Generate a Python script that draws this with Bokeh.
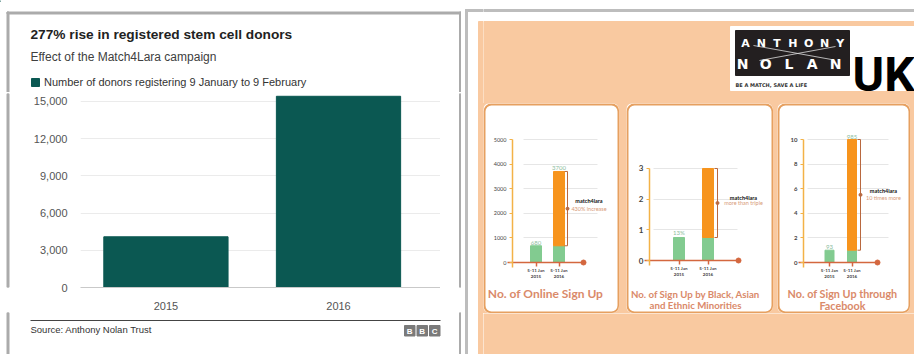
from bokeh.plotting import figure
from bokeh.models import (Range1d, ColumnDataSource, Label, LabelSet, Legend, LegendItem,
                          FixedTicker, NumeralTickFormatter, Grid, Quad)
from bokeh.layouts import row, column
from bokeh.embed import file_html
from bokeh.resources import INLINE
from bokeh.core.properties import value

# ---------------- data ----------------
years = ["2015", "2016"]
donors = [4090, 15420]
donor_ticks = [0, 3000, 6000, 9000, 12000, 15000]
title_text = "277% rise in registered stem cell donors"
subtitle_text = "Effect of the Match4Lara campaign"
legend_text = "Number of donors registering 9 January to 9 February"
source_text = "Source: Anthony Nolan Trust"

periods = ["5-11 Jan\n2015", "5-11 Jan\n2016"]
online_values = [680, 3700]
online_labels = ["680", "3700"]
online_ticks = [0, 1000, 2000, 3000, 4000, 5000]
bame_values = [0.75, 3.0]
bame_labels = ["13%", ""]
bame_ticks = [0, 1, 2, 3]
fb_values = [1, 10]
fb_labels = ["93", "985"]
fb_ticks = [0, 2, 4, 6, 8, 10]
card_titles = [["No. of Online Sign Up"],
               ["No. of Sign Up by Black, Asian", "and Ethnic Minorities"],
               ["No. of Sign Up through", "Facebook"]]
card_notes = ["430% increase", "more than triple", "10 times more"]
campaign = "match4lara"

# ---------------- styles ----------------
SANS = "Liberation Sans"
ROUND = "Lato"
GRAY = "#ABABAB"
TEAL = "#0B5852"
ORANGE_BG = "#F9C9A0"
GREEN = "#82CB90"
ORANGE_BAR = "#F7941D"
AXIS_Y = "#F3B247"
AXIS_X = "#D4673F"
BRACKET = "#B8683F"
TITLE_COL = "#DA8A6A"
VAL_COL = "#8DBD9E"
NOTE_COL = "#D79A78"
CARD_EDGE = "#E6A060"
HAS_CROSS = "cross_bounds" in Grid.properties()
HAS_RADIUS = "border_radius" in Quad.properties()


def canvas(w, h, bg="white"):
    f = figure(width=w, height=h, x_range=Range1d(0, w), y_range=Range1d(h, 0),
               x_axis_location=None, y_axis_location=None, min_border=0, tools="",
               toolbar_location=None, output_backend="svg", outline_line_color=None,
               background_fill_color=bg, border_fill_color=bg)
    f.xgrid.visible = False
    f.ygrid.visible = False
    return f


# ================= LEFT PANEL (BBC chart) =================
hdr = canvas(461, 92)
hdr.quad(left=6.5, right=461, top=11.5, bottom=13.5, color=GRAY)
hdr.quad(left=6.5, right=8.5, top=11.5, bottom=92, color=GRAY)
hdr.quad(left=459, right=461, top=11.5, bottom=92, color=GRAY)
hdr.text(x=[30], y=[34], text=[title_text], text_font=value(SANS), text_font_style="bold",
         text_font_size="13.7px", text_baseline="middle", text_color="#222222")
hdr.text(x=[30], y=[56], text=[subtitle_text], text_font=value(SANS),
         text_font_size="12px", text_baseline="middle", text_color="#404040")
# legend swatch renderer (sits outside the visible canvas, only its legend entry shows)
proxy = hdr.vbar(x=[-100], top=[0], bottom=[1], width=1, color=TEAL)
hdr.add_layout(Legend(items=[LegendItem(label=legend_text, renderers=[proxy])],
                      location=(30, 4.5), orientation="horizontal", glyph_width=10,
                      glyph_height=10, label_standoff=4, padding=0, margin=0, spacing=0,
                      label_height=10, border_line_color=None, background_fill_alpha=0,
                      label_text_font=SANS, label_text_font_size="11px",
                      label_text_color="#333333"))

x_pos = [i + 1 for i in range(len(years))]
src = ColumnDataSource(dict(x=x_pos, top=donors))
p = figure(width=410, height=220, x_range=Range1d(0.505, 2.591), y_range=Range1d(0, 15645),
           min_border_left=47, min_border_right=0, min_border_top=1, min_border_bottom=25,
           tools="", toolbar_location=None, output_backend="svg", outline_line_color=None,
           background_fill_color="white", border_fill_color="white")
p.vbar(x="x", top="top", bottom=0, width=0.72, source=src, color=TEAL)
p.yaxis.ticker = FixedTicker(ticks=donor_ticks)
p.yaxis.formatter = NumeralTickFormatter(format="0,0")
p.yaxis.axis_line_color = None
p.yaxis.major_tick_line_color = None
p.yaxis.minor_tick_line_color = None
p.yaxis.major_label_standoff = 7
p.yaxis.major_label_text_font = SANS
p.yaxis.major_label_text_font_size = "11px"
p.yaxis.major_label_text_color = "#555555"
p.ygrid.ticker = FixedTicker(ticks=donor_ticks)
p.ygrid.grid_line_color = "#EBEBEB"
p.xgrid.visible = False
p.xaxis.ticker = FixedTicker(ticks=x_pos)
p.xaxis.major_label_overrides = {x: y for x, y in zip(x_pos, years)}
p.xaxis.axis_line_color = "#C9C9C9"
p.xaxis.major_tick_line_color = None
p.xaxis.minor_tick_line_color = None
p.xaxis.major_label_standoff = 8
p.xaxis.major_label_text_font = SANS
p.xaxis.major_label_text_font_size = "11px"
p.xaxis.major_label_text_color = "#555555"

strip_l = canvas(30, 220)
strip_l.quad(left=6.5, right=8.5, top=0, bottom=220, color=GRAY)
strip_r = canvas(21, 220)
strip_r.quad(left=19, right=21, top=0, bottom=220, color=GRAY)

ftr = canvas(461, 42)
ftr.quad(left=6.5, right=8.5, top=0, bottom=42, color=GRAY)
ftr.quad(left=459, right=461, top=0, bottom=42, color=GRAY)
ftr.segment(x0=[30], y0=[8], x1=[440], y1=[8], line_color="#444444", line_width=1)
ftr.text(x=[30], y=[17], text=[source_text], text_font=value(SANS), text_font_size="9.5px",
         text_baseline="middle", text_color="#333333")
bbc_x = [404, 416.5, 429]
ftr.quad(left=bbc_x, right=[b + 10.5 for b in bbc_x], top=13, bottom=23.5, color="#7A7A7A")
ftr.text(x=[b + 5.25 for b in bbc_x], y=[18.5] * 3, text=["B", "B", "C"], text_font=value(SANS),
         text_font_style="bold", text_font_size="8px", text_align="center",
         text_baseline="middle", text_color="white")

left_col = column(hdr, row(strip_l, p, strip_r), ftr)

# ================= RIGHT PANEL (Anthony Nolan infographic) =================
rstrip = canvas(22, 354)
rstrip.quad(left=4, right=6, top=9, bottom=354, color="#BDBDBD")
rstrip.quad(left=4, right=22, top=9, bottom=11, color="#BDBDBD")
rstrip.quad(left=17, right=22, top=21, bottom=354, color=ORANGE_BG)

top = canvas(431, 103)
top.quad(left=0, right=431, top=9, bottom=11, color="#BDBDBD")
top.quad(left=0, right=431, top=21, bottom=103, color=ORANGE_BG)
top.quad(left=247, right=431, top=26, bottom=90, color="white")
top.quad(left=252, right=366, top=30, bottom=75, color="#231F20")
top.text(x=[262 + i * 15.8 for i in range(7)], y=[43] * 7, text=list("ANTHONY"),
         text_font=value("DejaVu Sans"), text_font_style="bold", text_font_size="11px",
         text_align="center", text_baseline="middle", text_color="white")
top.text(x=[259 + i * 23.25 for i in range(5)], y=[63] * 5, text=list("NOLAN"),
         text_font=value("DejaVu Sans"), text_font_style="bold", text_font_size="14px",
         text_align="center", text_baseline="middle", text_color="white")
top.segment(x0=[270, 276], y0=[45, 60], x1=[348, 352], y1=[59, 46], line_color="#DDDDDD",
            line_width=0.8)
top.text(x=[369], y=[74], text=["UK"], text_font=value("Roboto"),
         text_font_style="bold", text_font_size="48px", text_baseline="alphabetic",
         text_color="black")
top.text(x=[252], y=[84], text=["BE A MATCH, SAVE A LIFE"], text_font=value("DejaVu Sans"),
         text_font_style="bold", text_font_size="5px", text_baseline="middle",
         text_color="#333333")

CARD_STYLE = {"border-radius": "7px", "overflow": "hidden"}

# pixel geometry of each card (card-local px, y downward)
specs = [
    dict(w=136, bar1=52.5, zero=159, xppu=23, yppu=0.0246, yaxis=29, xstart=24, dot=100,
         grid=(40, 114), bar_px=11, bracket=84, note_x=105.5, note_y=(97, 105),
         title_x=62, title_y=[190], title_fs="12px", vals=online_values, labs=online_labels,
         ticks=online_ticks, tick_fs="5.5px", tick_style="normal"),
    dict(w=147, bar1=52.5, zero=157, xppu=29, yppu=30.67, yaxis=23, xstart=18, dot=112,
         grid=(27, 111), bar_px=11, bracket=91, note_x=117, note_y=(94, 99.5),
         title_x=69, title_y=[190, 201], title_fs="9.7px", vals=bame_values,
         labs=bame_labels, ticks=bame_ticks, tick_fs="8px", tick_style="bold"),
    dict(w=133, bar1=52, zero=159, xppu=22.5, yppu=12.3, yaxis=26, xstart=21, dot=100,
         grid=(30, 111), bar_px=9, bracket=83, note_x=106, note_y=(87, 94),
         title_x=65, title_y=[190, 201.5], title_fs="10.8px", vals=fb_values, labs=fb_labels,
         ticks=fb_ticks, tick_fs="6px", tick_style="bold"),
]
CARD_H = 210

cards = []
for i, s in enumerate(specs):
    def dx(px, s=s):
        return 1 + (px - s["bar1"]) / s["xppu"]

    def dy(py, s=s):
        return (s["zero"] - py) / s["yppu"]

    c = figure(width=s["w"], height=CARD_H, x_range=Range1d(dx(0), dx(s["w"])),
               y_range=Range1d(dy(CARD_H), dy(0)), min_border=0,
               tools="", toolbar_location=None, output_backend="svg", outline_line_color=None,
               background_fill_color="white", border_fill_color="white", styles=CARD_STYLE)
    # card edge (rounded frame)
    edge_kw = dict(border_radius=7) if HAS_RADIUS else {}
    c.quad(left=dx(1), right=dx(s["w"] - 1), top=dy(1), bottom=dy(CARD_H - 1),
           fill_color=None, line_color=CARD_EDGE, line_width=2, **edge_kw)
    xs = [1, 2]
    vals = s["vals"]
    base = vals[0]
    green = [min(v, base) for v in vals]
    bw = s["bar_px"] / s["xppu"]
    c.vbar(x=xs, bottom=0, top=green, width=bw, color=GREEN)
    c.vbar(x=xs[1:], bottom=green[1:], top=vals[1:], width=bw, color=ORANGE_BAR)
    lsrc = ColumnDataSource(dict(x=xs, y=vals, t=s["labs"]))
    c.add_layout(LabelSet(x="x", y="y", text="t", source=lsrc, y_offset=1,
                          text_font=value(ROUND), text_font_size="6px", text_align="center",
                          text_baseline="bottom", text_color=VAL_COL))
    # y axis
    c.yaxis.fixed_location = dx(s["yaxis"])
    c.yaxis.ticker = FixedTicker(ticks=s["ticks"])
    c.yaxis.bounds = (dy(s["zero"] + 5), s["ticks"][-1])
    c.yaxis.axis_line_color = AXIS_Y
    c.yaxis.axis_line_width = 1.5
    c.yaxis.major_tick_line_color = AXIS_Y
    c.yaxis.major_tick_out = 3
    c.yaxis.major_tick_in = 0
    c.yaxis.minor_tick_line_color = None
    c.yaxis.major_label_standoff = 3
    c.yaxis.major_label_text_font = ROUND
    c.yaxis.major_label_text_font_size = s["tick_fs"]
    c.yaxis.major_label_text_font_style = s["tick_style"]
    c.yaxis.major_label_text_color = "#444444"
    c.ygrid.ticker = FixedTicker(ticks=s["ticks"][1:])
    c.ygrid.grid_line_color = "#E6E6E6"
    if HAS_CROSS:
        c.ygrid.cross_bounds = (dx(s["grid"][0]), dx(s["grid"][1]))
    c.xgrid.visible = False
    # x axis
    c.xaxis.fixed_location = 0
    c.xaxis.ticker = FixedTicker(ticks=xs)
    c.xaxis.major_label_overrides = {x: lab for x, lab in zip(xs, periods)}
    c.xaxis.bounds = (dx(s["xstart"]), dx(s["dot"]))
    c.xaxis.axis_line_color = AXIS_X
    c.xaxis.axis_line_width = 1.5
    c.xaxis.major_tick_line_color = AXIS_X
    c.xaxis.major_tick_line_width = 1.5
    c.xaxis.major_tick_out = 4
    c.xaxis.major_tick_in = 0
    c.xaxis.minor_tick_line_color = None
    c.xaxis.major_label_standoff = 1
    c.xaxis.major_label_text_font = ROUND
    c.xaxis.major_label_text_font_size = "4.5px"
    c.xaxis.major_label_text_font_style = "bold"
    c.xaxis.major_label_text_color = "#444444"
    c.scatter([dx(s["dot"])], [0], size=5, color=AXIS_X)
    # bracket
    bx = dx(s["bracket"])
    tick_len = 3.0 / s["xppu"]
    c.segment(x0=[bx, bx - tick_len, bx - tick_len], y0=[vals[0], vals[0], vals[1]],
              x1=[bx, bx, bx], y1=[vals[1], vals[0], vals[1]], line_color=BRACKET,
              line_width=1)
    c.scatter([bx], [(vals[0] + vals[1]) / 2], size=3, color=BRACKET)
    c.add_layout(Label(x=dx(s["note_x"]), y=dy(s["note_y"][0]), text=campaign, text_font=ROUND,
                       text_font_style="bold", text_font_size="5.5px", text_align="center",
                       text_baseline="middle", text_color="#111111"))
    c.add_layout(Label(x=dx(s["note_x"]), y=dy(s["note_y"][1]), text=card_notes[i],
                       text_font=ROUND, text_font_size="5.5px", text_align="center",
                       text_baseline="middle", text_color=NOTE_COL))
    for line, py in zip(card_titles[i], s["title_y"]):
        c.add_layout(Label(x=dx(s["title_x"]), y=dy(py), text=line, text_font=ROUND,
                           text_font_style="bold", text_font_size=s["title_fs"],
                           text_align="center", text_baseline="middle", text_color=TITLE_COL))
    cards.append(c)

gap1 = canvas(7, CARD_H, ORANGE_BG)
gap2 = canvas(4, CARD_H, ORANGE_BG)
gap3 = canvas(4, CARD_H, ORANGE_BG)
cards_row = row(cards[0], gap1, cards[1], gap2, cards[2], gap3,
                styles={"background-color": ORANGE_BG})
bottom = canvas(431, 41, ORANGE_BG)

right_col = column(top, cards_row, bottom)
layout = row(left_col, row(rstrip, right_col))

open("out.html", "w").write(file_html(layout, INLINE))
